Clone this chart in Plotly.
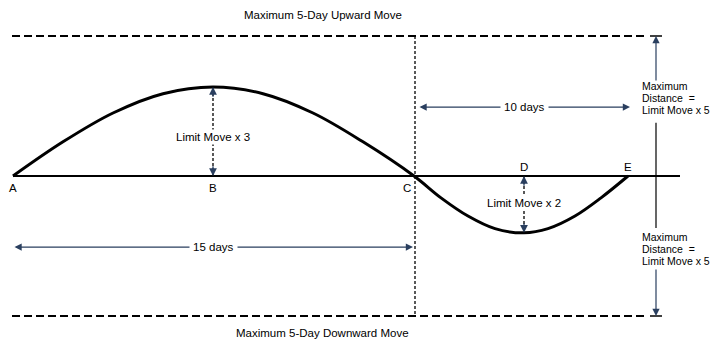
import plotly.graph_objects as go

# Horizontal position along the diagram, vertical position in limit moves
points = ["A", "B", "C", "D", "E"]
point_x = [13, 213, 414, 524, 628]
point_y = [0, 3.18, 0, -2.03, 0]

curve_x = [13, 63, 113, 163, 213, 263, 313, 363, 414,
           441, 468, 495, 524, 548, 575, 601, 628]
curve_y = [0, 1.22, 2.25, 2.94, 3.18, 2.94, 2.25, 1.22, 0,
           -0.78, -1.43, -1.88, -2.03, -1.88, -1.43, -0.78, 0]

max_move = 5
move_labels = ["Limit Move x 3", "Limit Move x 2"]
span_labels = ["15 days", "10 days"]
span_from = [13, 418]
span_to = [413, 630]
span_level = [-2.54, 2.46]
dist_lines = ["Maximum", "Distance  =", "Limit Move x 5"]
end_x = 680
dist_x = 656

FONT = dict(family="Liberation Sans, Arial", size=11.5, color="black")
SMALL = dict(family="Liberation Sans, Arial", size=10.5, color="black")

fig = go.Figure()

# dashed limits
for lvl in [max_move, -max_move]:
    fig.add_trace(go.Scatter(x=[12, 645], y=[lvl, lvl], mode="lines",
                             line=dict(color="black", width=2, dash="8px,4px")))
    fig.add_trace(go.Scatter(x=[dist_x - 6, dist_x + 6], y=[lvl, lvl], mode="lines",
                             line=dict(color="black", width=1.5)))

# baseline
fig.add_trace(go.Scatter(x=[point_x[0], end_x], y=[0, 0], mode="lines",
                         line=dict(color="black", width=2)))

# vertical dashed line at C
fig.add_trace(go.Scatter(x=[point_x[2] + 1, point_x[2] + 1], y=[max_move, -max_move],
                         mode="lines", line=dict(color="black", width=1.3, dash="3px,2px")))

# price path
fig.add_trace(go.Scatter(x=curve_x, y=curve_y, mode="lines", line_shape="spline",
                         line=dict(color="black", width=3)))

# dashed move arrows at B and D
for i in [1, 3]:
    fig.add_trace(go.Scatter(x=[point_x[i], point_x[i]], y=[0, point_y[i]], mode="lines",
                             line=dict(color="black", width=1.3, dash="3px,2px")))
    sign = 1 if point_y[i] > 0 else -1
    for tip, tail in [(point_y[i], point_y[i] - sign * 0.4), (0, sign * 0.4)]:
        fig.add_annotation(x=point_x[i], y=tip, ax=point_x[i], ay=tail,
                           xref="x", yref="y", axref="x", ayref="y", text="",
                           showarrow=True, arrowhead=2, arrowsize=1.2, arrowwidth=1.3)

fig.add_annotation(x=point_x[1], y=1.39, text=move_labels[0], showarrow=False,
                   font=FONT, bgcolor="white")
fig.add_annotation(x=point_x[3], y=-0.96, text=move_labels[1], showarrow=False,
                   font=FONT, bgcolor="white")

# point labels
for name, x, y in zip(points, point_x, point_y):
    above = name in ("D", "E")
    lx = x - 7 if name == "C" else x
    fig.add_annotation(x=lx, y=0.32 if above else -0.43, text=name, showarrow=False,
                       font=FONT)

# day spans
for lab, x0, x1, lvl in zip(span_labels, span_from, span_to, span_level):
    fig.add_annotation(x=x1, y=lvl, ax=x0, ay=lvl, xref="x", yref="y", axref="x",
                       ayref="y", text="", showarrow=True, arrowhead=2, arrowside="end+start",
                       arrowsize=1.2, arrowwidth=1.2)
    fig.add_annotation(x=(x0 + x1) / 2, y=lvl, text=lab, showarrow=False, font=FONT,
                       bgcolor="white", borderpad=3)

# maximum distance arrows on the right
fig.add_trace(go.Scatter(x=[dist_x, dist_x], y=[1.9, -1.86], mode="lines",
                         line=dict(color="black", width=1.2)))
fig.add_annotation(x=dist_x, y=max_move, ax=dist_x, ay=3.36, xref="x", yref="y",
                   axref="x", ayref="y", text="", showarrow=True, arrowhead=2,
                   arrowsize=1.2, arrowwidth=1.2)
fig.add_annotation(x=dist_x, y=-max_move, ax=dist_x, ay=-3.29, xref="x", yref="y",
                   axref="x", ayref="y", text="", showarrow=True, arrowhead=2,
                   arrowsize=1.2, arrowwidth=1.2)
for top in [3.21, -2.18]:
    for k, line in enumerate(dist_lines):
        fig.add_annotation(x=640, y=top - k * 0.43, text=line, showarrow=False,
                           xanchor="left", align="left", font=SMALL)

fig.add_annotation(x=323, y=5.75, text="Maximum 5-Day Upward Move", showarrow=False, font=FONT)
fig.add_annotation(x=322, y=-5.6, text="Maximum 5-Day Downward Move", showarrow=False, font=FONT)

# page body has an 8px margin, so the figure covers page pixels 8..718 / 8..340
fig.update_layout(
    width=710, height=332, margin=dict(l=0, r=0, t=0, b=0),
    plot_bgcolor="white", paper_bgcolor="white", showlegend=False,
    xaxis=dict(range=[8, 718], visible=False),
    yaxis=dict(range=[-5.857, 6.0], visible=False),
)
fig.write_html("out.html")
